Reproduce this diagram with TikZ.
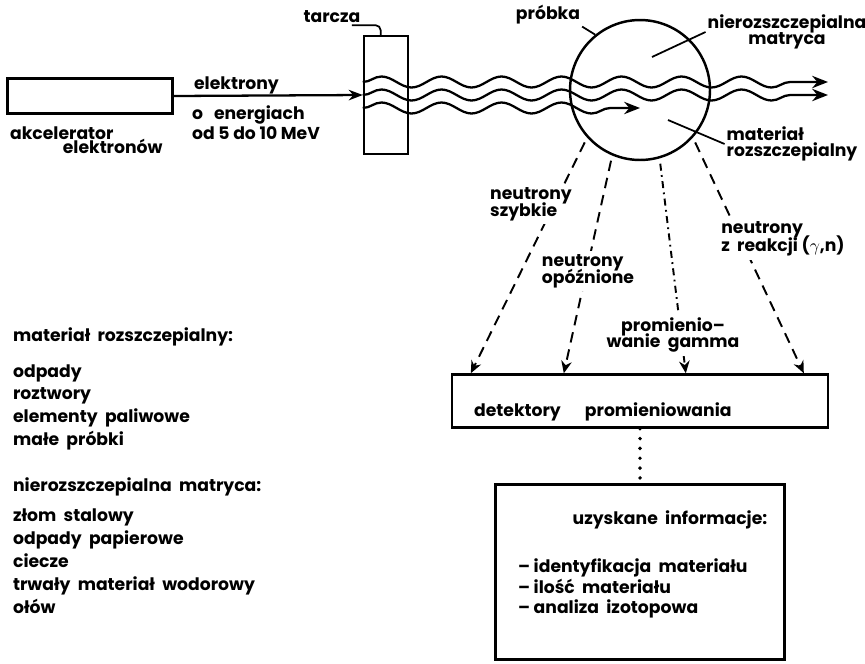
\documentclass[tikz,border=0pt]{standalone}
\usepackage{fontspec}
\setmainfont{Poppins}
\usetikzlibrary{arrows.meta}
\usetikzlibrary{decorations.pathmorphing}
\usetikzlibrary{positioning}

\begin{document}
\begin{tikzpicture}[x=0.02cm, y=-0.02cm,
    every node/.style={font=\bfseries\fontsize{9.8}{11.5}\selectfont},
    frame/.style={draw, line width=1.4pt, inner sep=0pt},
    txt/.style={inner sep=1pt, align=left},
    lbl/.style={txt, fill=white, inner sep=2pt},
    listtxt/.style={txt, font=\bfseries\fontsize{9.8}{13}\selectfont},
    lead/.style={line width=1pt},
    ray/.style={line width=1.1pt, -{Stealth[length=7pt,width=6pt]}},
    wave/.style={line width=1.3pt, decorate,
        decoration={snake, segment length=1.2cm, amplitude=0.11cm, post length=4mm},
        -{Stealth[length=9pt,width=7pt]}}]
    \useasboundingbox (0,0) rectangle (865,663);

    \node[frame, minimum width=3.3cm, minimum height=0.7cm] (akc) at (90,96) {};
    \node[frame, minimum width=0.88cm, minimum height=2.36cm] (tarcza) at (386,95) {};
    \node[frame, circle, minimum size=2.8cm] (probka) at (640,90) {};
    \node[frame, minimum width=7.52cm, minimum height=1.06cm] (det) at (640,401) {};
    \node[frame, minimum width=5.78cm, minimum height=3.5cm] (info) at (640,572) {};

    \node[txt, anchor=north west] (akclab) at (8,125) {akcelerator\\[-3.5pt]\hspace*{30pt}elektronów};
    \node[txt, anchor=west] (eltop) at (192,85) {elektrony};
    \node[txt, anchor=north west] (elbot) at (190,104) {o\ \ \ energiach\\[-0.3pt]od 5 do 10 MeV};
    \draw[line width=1.3pt, -{Stealth[length=8pt,width=6pt]}] (akc.east) -- (tarcza.west);

    \node[txt] (tarlab) at (332,17) {tarcza};
    \draw[lead, rounded corners=3pt] ([xshift=-6pt]tarlab.south east) -| ([xshift=-3pt]tarcza.north);
    \node[txt] (problab) at (548,15) {próbka};
    \draw[lead] (problab.south east) -- (probka.129);

    \coordinate (matin) at (652,57);
    \coordinate (rozin) at (668,120);
    \node[txt, align=center] (matlab) at (787,32) {nierozszczepialna\\[-2pt]matryca};
    \node[txt] (rozlab) at (792,144) {materiał\\[-2pt]rozszczepialny};
    \draw[lead] (matlab.west) -- (matin);
    \draw[lead] (rozlab.west) -- (rozin);

    % wiazki
    \coordinate (w1) at (828,82);
    \coordinate (w2) at (828,95);
    \coordinate (w3) at (640,108);
    \draw[wave] ([yshift=7.4pt]tarcza.west) -- (w1);
    \draw[wave] (tarcza.west) -- (w2);
    \draw[wave] ([yshift=-7.4pt]tarcza.west) -- (w3);

    \path (det.north west) ++(20,0) coordinate (in1)
          (det.north west) ++(113,0) coordinate (in2)
          (det.north west) ++(235,0) coordinate (in3)
          (det.north west) ++(353,0) coordinate (in4);
    \draw[ray, dash pattern=on 6pt off 4pt, shorten <=3pt] (probka.222) -- (in1);
    \draw[ray, dash pattern=on 6pt off 4pt, shorten <=3pt] (probka.247) -- (in2);
    \draw[ray, dash pattern=on 4pt off 2.5pt on 1pt off 2.5pt, shorten <=3pt] (probka.286) -- (in3);
    \draw[ray, dash pattern=on 6pt off 4pt, shorten <=3pt] (probka.318) -- (in4);

    \node[lbl] (szyb) at (531,204) {neutrony\\[-2pt]szybkie};
    \node[lbl] (opoz) at (588,271) {neutrony\\[-2pt]opóźnione};
    \node[lbl, align=center] (gamma) at (673,335) {promienio--\\[-2pt]wanie\ \ gamma};
    \node[lbl] (reak) at (783,239) {neutrony\\[-2pt]z\ \ reakcji ($\gamma$,n)};

    \node[txt, anchor=west] (detlab) at (472,412) {detektory\hspace{1.4em}promieniowania};
    \draw[line width=2.2pt, line cap=round, dash pattern=on 0pt off 5.6pt] (det.south) -- (info.north);

    \node[txt] (infohead) at (670,520) {uzyskane\ \ informacje:};
    \node[txt, anchor=north west, font=\bfseries\fontsize{9.8}{11.6}\selectfont] (infolist) at (516,557)
        {-- identyfikacja\ \ materiału\\-- ilość\ \ materiału\\-- analiza\ \ izotopowa};

    \node[listtxt, anchor=north west] (fislist) at (11,326)
        {materiał\ \ rozszczepialny:\\[7pt]odpady\\roztwory\\elementy\ \ paliwowe\\małe\ \ próbki};
    \node[listtxt, anchor=north west] (matlist) at (11,476)
        {nierozszczepialna\ \ matryca:\\[4pt]złom\ \ stalowy\\odpady\ \ papierowe\\ciecze\\trwały\ \ materiał\ \ wodorowy\\ołów};
\end{tikzpicture}
\end{document}
